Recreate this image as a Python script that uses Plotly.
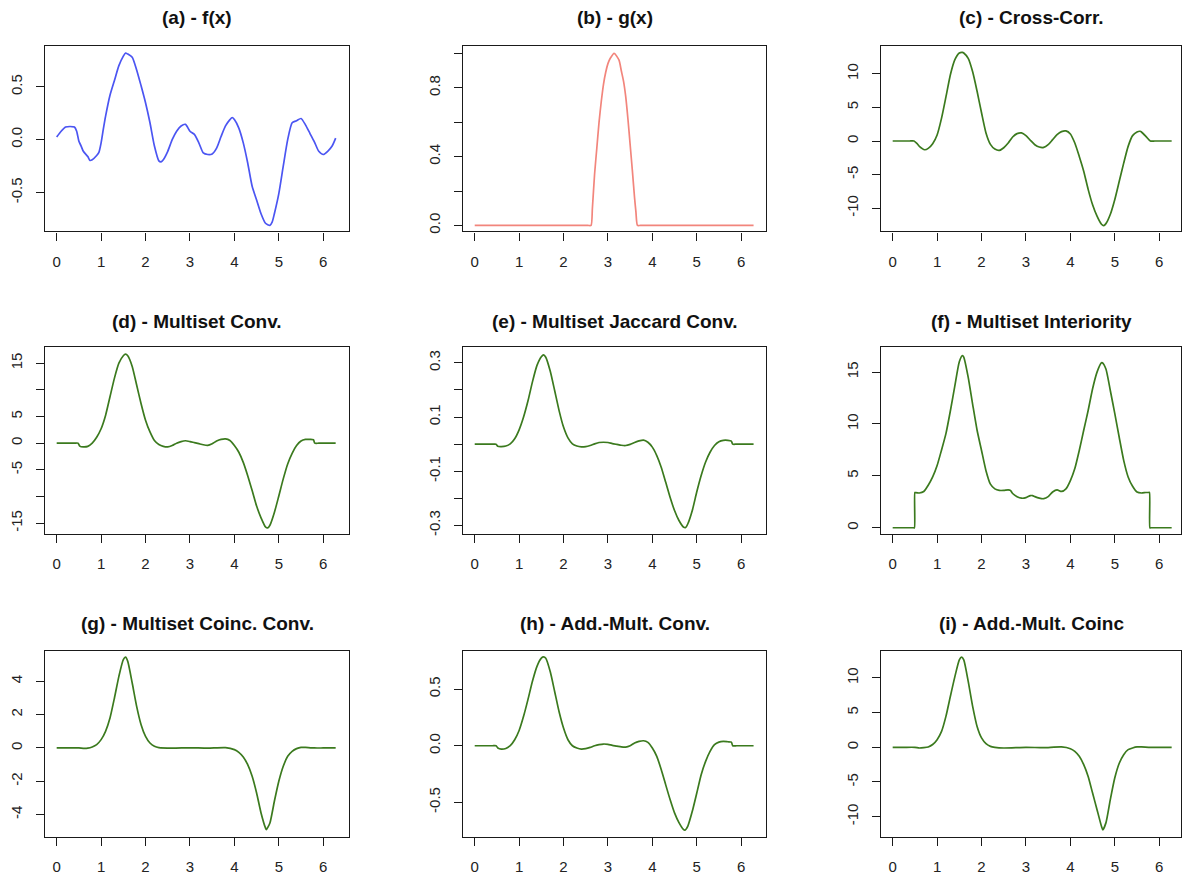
import plotly.graph_objects as go

# ---------------- data ----------------
xa = [0, 0.1, 0.2, 0.3, 0.4, 0.45, 0.5, 0.55, 0.6, 0.7, 0.75, 0.8, 0.9, 0.95, 1.0, 1.05, 1.1, 1.2, 1.3, 1.4,
      1.5, 1.55, 1.6, 1.7, 1.8, 1.9, 2.0, 2.1, 2.2, 2.3, 2.35, 2.4, 2.5, 2.6, 2.7, 2.8, 2.9, 3.0, 3.1, 3.2,
      3.3, 3.4, 3.5, 3.6, 3.7, 3.8, 3.9, 3.95, 4.0, 4.1, 4.2, 4.3, 4.4, 4.5, 4.6, 4.7, 4.8, 4.85, 4.9, 5.0,
      5.1, 5.2, 5.3, 5.4, 5.5, 5.6, 5.7, 5.8, 5.9, 6.0, 6.1, 6.2, 6.28]
ya = [0.025, 0.08, 0.12, 0.125, 0.12, 0.08, -0.015, -0.06, -0.11, -0.16, -0.196, -0.19, -0.15, -0.12, -0.03, 0.1, 0.22, 0.42, 0.56, 0.70,
      0.79, 0.82, 0.81, 0.78, 0.66, 0.51, 0.35, 0.16, -0.06, -0.2, -0.21, -0.19, -0.11, 0.0, 0.08, 0.13, 0.145, 0.08, 0.05, -0.03,
      -0.125, -0.14, -0.135, -0.08, 0.03, 0.13, 0.19, 0.21, 0.19, 0.11, -0.03, -0.22, -0.44, -0.57, -0.70, -0.79, -0.81, -0.78, -0.70, -0.51,
      -0.25, 0.0, 0.16, 0.18, 0.2, 0.14, 0.06, -0.02, -0.11, -0.14, -0.11, -0.06, 0.015]

xb = [0, 1.0, 2.0, 2.4, 2.55, 2.62, 2.65, 2.7, 2.75, 2.8, 2.85, 2.9, 2.95, 3.0, 3.05, 3.14, 3.25, 3.3, 3.35, 3.4,
      3.45, 3.5, 3.55, 3.6, 3.63, 3.665, 3.73, 3.9, 4.5, 5.5, 6.28]
yb = [0, 0, 0, 0, 0, 0, 0.1, 0.3, 0.45, 0.6, 0.72, 0.82, 0.89, 0.94, 0.97, 1.0, 0.96, 0.9, 0.84, 0.75,
      0.62, 0.47, 0.32, 0.16, 0.08, 0, 0, 0, 0, 0, 0]

xc = [0, 0.2, 0.38, 0.48, 0.55, 0.6, 0.72, 0.8, 0.9, 1.0, 1.1, 1.2, 1.3, 1.4, 1.5, 1.57, 1.6, 1.7, 1.8, 1.9,
      2.0, 2.1, 2.2, 2.3, 2.4, 2.5, 2.6, 2.7, 2.8, 2.9, 3.0, 3.1, 3.2, 3.3, 3.4, 3.5, 3.6, 3.7, 3.8, 3.9,
      4.0, 4.1, 4.2, 4.3, 4.4, 4.5, 4.6, 4.7, 4.75, 4.8, 4.9, 5.0, 5.1, 5.2, 5.3, 5.4, 5.5, 5.57, 5.6, 5.7,
      5.8, 5.9, 6.05, 6.28]
yc = [0, 0, 0, 0, -0.4, -0.8, -1.3, -1.1, -0.4, 0.9, 3.4, 6.6, 9.9, 12.1, 13.1, 13.2, 13.1, 12.3, 10.3, 7.4,
      4.2, 1.2, -0.5, -1.2, -1.4, -1.0, -0.3, 0.6, 1.1, 1.2, 0.8, 0.1, -0.55, -0.9, -0.95, -0.55, 0.2, 0.95, 1.4, 1.5,
      1.05, -0.3, -2.3, -4.5, -7.2, -9.5, -11.2, -12.4, -12.6, -12.3, -10.9, -8.7, -6.0, -3.3, -0.8, 0.8, 1.35, 1.45, 1.35, 0.7,
      0, 0, 0, 0]

xd = [0, 0.2, 0.4, 0.48, 0.52, 0.6, 0.7, 0.8, 0.9, 1.0, 1.1, 1.2, 1.3, 1.4, 1.5, 1.55, 1.6, 1.7, 1.8, 1.9,
      2.0, 2.1, 2.2, 2.3, 2.4, 2.5, 2.6, 2.7, 2.8, 2.9, 3.0, 3.1, 3.2, 3.3, 3.4, 3.5, 3.6, 3.7, 3.8, 3.9,
      4.0, 4.1, 4.2, 4.3, 4.4, 4.5, 4.6, 4.7, 4.75, 4.8, 4.9, 5.0, 5.1, 5.2, 5.3, 5.4, 5.5, 5.6, 5.7, 5.78,
      5.81, 5.9, 6.05, 6.28]
yd = [0, 0, 0, 0, -0.55, -0.7, -0.6, 0, 1.1, 2.7, 5.2, 8.7, 12.2, 15.0, 16.4, 16.7, 16.4, 14.4, 10.9, 7.4,
      4.3, 2.1, 0.5, -0.25, -0.6, -0.7, -0.45, 0, 0.3, 0.45, 0.3, 0.1, -0.1, -0.3, -0.4, -0.1, 0.4, 0.7, 0.8, 0.5,
      -0.45, -1.7, -3.6, -6.1, -8.9, -11.8, -14.0, -15.7, -15.9, -15.4, -13.0, -9.9, -6.7, -3.9, -1.9, -0.45, 0.4, 0.7, 0.7, 0.65,
      0, 0, 0, 0]

xe = [0, 0.2, 0.4, 0.48, 0.52, 0.6, 0.7, 0.8, 0.9, 1.0, 1.1, 1.2, 1.3, 1.4, 1.5, 1.55, 1.6, 1.7, 1.8, 1.9,
      2.0, 2.1, 2.2, 2.3, 2.4, 2.5, 2.6, 2.7, 2.8, 2.9, 3.0, 3.1, 3.2, 3.3, 3.4, 3.5, 3.6, 3.7, 3.8, 3.9,
      4.0, 4.1, 4.2, 4.3, 4.4, 4.5, 4.6, 4.7, 4.75, 4.8, 4.9, 5.0, 5.1, 5.2, 5.3, 5.4, 5.5, 5.6, 5.7, 5.78,
      5.81, 5.9, 6.05, 6.28]
ye = [0, 0, 0, 0, -0.008, -0.009, -0.007, 0.001, 0.02, 0.053, 0.10, 0.16, 0.23, 0.29, 0.323, 0.33, 0.321, 0.27, 0.198, 0.124,
      0.063, 0.023, 0.001, -0.007, -0.01, -0.009, -0.005, 0.001, 0.006, 0.007, 0.006, 0.002, -0.001, -0.004, -0.005, -0.001, 0.006, 0.012, 0.015, 0.007,
      -0.011, -0.042, -0.085, -0.14, -0.196, -0.245, -0.282, -0.306, -0.308, -0.294, -0.245, -0.177, -0.116, -0.066, -0.03, -0.005, 0.009, 0.014, 0.014, 0.011,
      0, 0, 0, 0]

xf = [0, 0.2, 0.4, 0.47, 0.49, 0.5, 0.52, 0.6, 0.7, 0.8, 0.9, 1.0, 1.1, 1.2, 1.3, 1.4, 1.5, 1.57, 1.6, 1.7,
      1.8, 1.9, 2.0, 2.1, 2.2, 2.3, 2.4, 2.5, 2.6, 2.65, 2.7, 2.8, 2.9, 3.0, 3.1, 3.15, 3.2, 3.3, 3.4, 3.5,
      3.6, 3.7, 3.8, 3.9, 4.0, 4.1, 4.2, 4.3, 4.4, 4.5, 4.6, 4.7, 4.72, 4.8, 4.9, 5.0, 5.1, 5.2, 5.3, 5.4,
      5.5, 5.6, 5.7, 5.76, 5.78, 5.79, 5.81, 5.88, 6.0, 6.15, 6.28]
yf = [0, 0, 0, 0, 0, 3.4, 3.38, 3.35, 3.5, 4.1, 4.9, 6.0, 7.5, 9.1, 11.3, 13.7, 16.0, 16.6, 16.45, 14.5,
      11.9, 9.4, 7.45, 5.5, 4.2, 3.75, 3.6, 3.6, 3.65, 3.6, 3.3, 3.0, 2.85, 2.9, 3.1, 3.1, 3.0, 2.85, 2.8, 3.0,
      3.45, 3.65, 3.5, 3.75, 4.55, 5.7, 7.45, 9.4, 11.3, 13.4, 15.0, 15.9, 15.9, 15.3, 13.2, 11.0, 8.7, 6.5, 4.9, 4.0,
      3.45, 3.35, 3.4, 3.4, 3.4, 0, 0, 0, 0, 0, 0]

xg = [0, 0.25, 0.5, 0.6, 0.7, 0.8, 0.9, 1.0, 1.1, 1.2, 1.3, 1.4, 1.5, 1.55, 1.6, 1.7, 1.8, 1.9, 2.0, 2.1,
      2.2, 2.3, 2.6, 3.0, 3.4, 3.8, 4.0, 4.1, 4.2, 4.3, 4.4, 4.5, 4.6, 4.7, 4.72, 4.8, 4.9, 5.0, 5.1, 5.2,
      5.3, 5.4, 5.5, 5.6, 5.8, 6.0, 6.28]
yg = [0, 0, 0, -0.02, -0.01, 0.06, 0.2, 0.5, 1.0, 1.8, 3.0, 4.3, 5.3, 5.45, 5.2, 3.9, 2.5, 1.4, 0.7, 0.3,
      0.1, 0.02, -0.01, 0.01, -0.01, 0.02, -0.1, -0.26, -0.54, -1.0, -1.7, -2.7, -3.9, -4.8, -4.9, -4.5, -3.2, -2.0, -1.1, -0.5,
      -0.2, -0.04, 0.04, 0.03, 0, 0, 0]

xh = [0, 0.2, 0.4, 0.48, 0.52, 0.6, 0.7, 0.8, 0.9, 1.0, 1.1, 1.2, 1.3, 1.4, 1.5, 1.55, 1.6, 1.7, 1.8, 1.9,
      2.0, 2.1, 2.2, 2.3, 2.4, 2.5, 2.6, 2.7, 2.8, 2.9, 3.0, 3.1, 3.2, 3.3, 3.4, 3.5, 3.6, 3.7, 3.8, 3.9,
      4.0, 4.1, 4.2, 4.3, 4.4, 4.5, 4.6, 4.7, 4.73, 4.8, 4.9, 5.0, 5.1, 5.2, 5.3, 5.4, 5.5, 5.6, 5.7, 5.78,
      5.81, 5.9, 6.05, 6.28]
yh = [0, 0, 0, 0, -0.02, -0.03, -0.024, 0, 0.053, 0.135, 0.26, 0.41, 0.57, 0.70, 0.774, 0.785, 0.774, 0.656, 0.48, 0.30,
      0.156, 0.053, 0, -0.02, -0.03, -0.026, -0.015, 0, 0.01, 0.015, 0.012, 0.003, -0.003, -0.01, -0.012, 0, 0.024, 0.038, 0.044, 0.03,
      -0.02, -0.094, -0.21, -0.344, -0.476, -0.594, -0.68, -0.74, -0.747, -0.71, -0.58, -0.42, -0.256, -0.138, -0.05, 0.009, 0.032, 0.038, 0.035, 0.032,
      0, 0, 0, 0]

xi = [0, 0.25, 0.5, 0.6, 0.7, 0.8, 0.9, 1.0, 1.1, 1.2, 1.3, 1.4, 1.5, 1.55, 1.6, 1.7, 1.8, 1.9, 2.0, 2.1,
      2.2, 2.3, 2.5, 3.0, 3.4, 3.8, 4.0, 4.1, 4.2, 4.3, 4.4, 4.5, 4.6, 4.7, 4.73, 4.8, 4.9, 5.0, 5.1, 5.2,
      5.3, 5.4, 5.5, 5.6, 5.8, 6.0, 6.28]
yi = [0, 0, 0, -0.1, -0.05, 0.05, 0.4, 1.1, 2.3, 4.5, 7.4, 10.2, 12.6, 13.0, 12.6, 9.5, 5.9, 3.0, 1.35, 0.53,
      0.14, 0, -0.1, 0.0, -0.05, 0.05, -0.2, -0.58, -1.3, -2.5, -4.2, -6.6, -9.0, -11.4, -11.9, -10.9, -7.5, -4.4, -2.3, -1.06,
      -0.34, -0.1, 0.05, 0.05, 0, 0, 0]

titles = ["(a) - f(x)", "(b) - g(x)", "(c) - Cross-Corr.",
          "(d) - Multiset Conv.", "(e) - Multiset Jaccard Conv.", "(f) - Multiset Interiority",
          "(g) - Multiset Coinc. Conv.", "(h) - Add.-Mult. Conv.", "(i) - Add.-Mult. Coinc"]

x_ticks = [0, 1, 2, 3, 4, 5, 6]
y_tickvals = [
    [-0.5, 0.0, 0.5],
    [0.0, 0.2, 0.4, 0.6, 0.8, 1.0],
    [-10, -5, 0, 5, 10],
    [-15, -10, -5, 0, 5, 10, 15],
    [-0.3, -0.2, -0.1, 0.0, 0.1, 0.2, 0.3],
    [0, 5, 10, 15],
    [-4, -2, 0, 2, 4],
    [-0.5, 0.0, 0.5],
    [-10, -5, 0, 5, 10],
]
y_ticktext = [
    ["-0.5", "0.0", "0.5"],
    ["0.0", "", "0.4", "", "0.8", ""],
    ["-10", "-5", "0", "5", "10"],
    ["-15", "", "-5", "0", "5", "", "15"],
    ["-0.3", "", "-0.1", "", "0.1", "", "0.3"],
    ["0", "5", "10", "15"],
    ["-4", "-2", "0", "2", "4"],
    ["-0.5", "0.0", "0.5"],
    ["-10", "-5", "0", "5", "10"],
]
y_ranges = [
    [-0.868, 0.887], [-0.035, 1.043], [-13.47, 14.16],
    [-17.0, 18.0], [-0.331, 0.358], [-0.58, 17.4],
    [-5.35, 5.85], [-0.808, 0.842], [-12.95, 13.96],
]

series_x = [xa, xb, xc, xd, xe, xf, xg, xh, xi]
series_y = [ya, yb, yc, yd, ye, yf, yg, yh, yi]
colors = ["#4b55f2", "#f2857c"] + ["#3b7a1e"] * 7

# ---------------- layout geometry (pixels) ----------------
W, H = 1186, 880
col_px = [(45, 349), (463, 766), (881, 1181)]
row_px = [(46, 232), (348, 535), (652, 839)]
title_y_px = [18, 322, 625]
x_ranges = [[-0.263, 6.58], [-0.264, 6.56], [-0.263, 6.49]]

FONT = "Liberation Sans, Arial, Helvetica, sans-serif"
fig = go.Figure()
annotations = []
for k in range(9):
    r, c = divmod(k, 3)
    ax = "" if k == 0 else str(k + 1)
    fig.add_trace(go.Scatter(
        x=series_x[k], y=series_y[k], mode="lines",
        line=dict(color=colors[k], width=1.7, shape="spline", smoothing=0.6),
        xaxis="x" + ax, yaxis="y" + ax, showlegend=False, hoverinfo="skip"))
    x0, x1 = col_px[c]
    y0, y1 = row_px[r]
    common = dict(showline=True, linecolor="#1a1a1a", linewidth=1.2, mirror=True,
                  ticks="outside", ticklen=8, tickwidth=1.2, tickcolor="#1a1a1a",
                  showgrid=False, zeroline=False,
                  tickfont=dict(family=FONT, size=15, color="#222222"))
    fig.layout["xaxis" + ax] = dict(
        domain=[x0 / W, x1 / W], range=x_ranges[c], anchor="y" + ax,
        tickvals=x_ticks, ticktext=[str(v) for v in x_ticks],
        ticklabelstandoff=8, **common)
    fig.layout["yaxis" + ax] = dict(
        domain=[1 - y1 / H, 1 - y0 / H], range=y_ranges[k], anchor="x" + ax,
        tickvals=y_tickvals[k], ticktext=y_ticktext[k], tickangle=-90,
        ticklabelstandoff=8, **common)
    annotations.append(dict(
        text="<b>" + titles[k] + "</b>", xref="paper", yref="paper",
        x=(x0 + x1) / 2 / W, y=1 - title_y_px[r] / H, xanchor="center", yanchor="middle",
        showarrow=False, font=dict(family=FONT, size=19, color="#111111")))

fig.update_layout(
    width=W, height=H, autosize=False,
    margin=dict(l=0, r=0, t=0, b=0),
    paper_bgcolor="white", plot_bgcolor="white",
    annotations=annotations,
)
fig.write_html("out.html",
               config={"displayModeBar": False},
               post_script="document.body.style.margin='0';document.body.style.overflow='hidden';")
